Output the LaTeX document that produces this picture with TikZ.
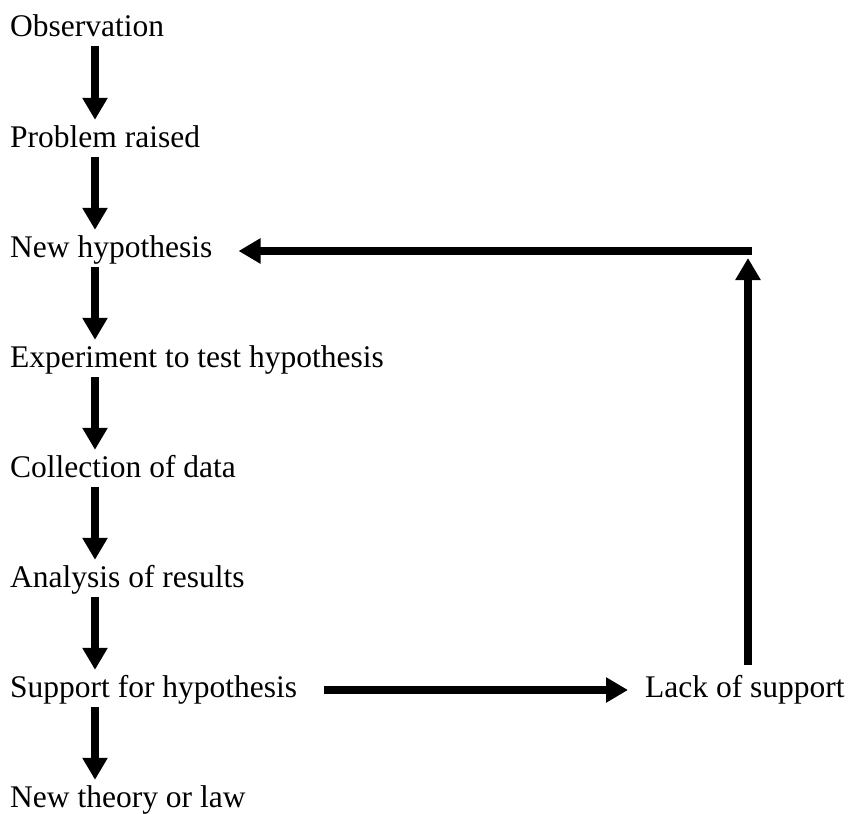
\documentclass[tikz,border=0pt]{standalone}
\usepackage{fontspec}
\setmainfont{Liberation Serif}
\usetikzlibrary{arrows.meta,calc}
\begin{document}
\begin{tikzpicture}[x=1pt,y=-1pt,
  lbl/.style={anchor=base west, inner sep=0pt, font=\fontsize{31.5}{38}\selectfont, text height=21pt, text depth=0pt},
  arr/.style={line width=8pt, -{Triangle[length=22pt,width=24pt]}}]
\useasboundingbox (0,0) rectangle (852,814);
\node[lbl] (obs)  at (10,36)  {Observation};
\node[lbl] (prob) at (10,147) {Problem raised};
\node[lbl] (newh) at (10,257) {New hypothesis};
\node[lbl] (exp)  at (10,367) {Experiment to test hypothesis};
\node[lbl] (coll) at (10,477) {Collection of data};
\node[lbl] (anal) at (10,587) {Analysis of results};
\node[lbl] (supp) at (10,697) {Support for hypothesis};
\node[lbl] (theo) at (10,807) {New theory or law};
\node[lbl] (lack) at (645,697) {Lack of support};
\coordinate (col) at (95,0);
\coordinate (corner) at (752,251);
\foreach \a/\b in {obs/prob,prob/newh,newh/exp,exp/coll,coll/anal,anal/supp,supp/theo}{
  \draw[arr] ($(\a.south -| col)+(0,10)$) -- ($(\b.north -| col)+(0,-6)$);
}
\draw[arr] ($(supp.base east)+(27,-7)$) -- ($(lack.base west)+(-17,-7)$);
\draw[arr] ($(lack.north west)+(103,-11)$) -- ($(corner)+(-4,7)$);
\draw[arr] (corner) -- ($(newh.base east)+(26,-6)$);
\end{tikzpicture}
\end{document}
